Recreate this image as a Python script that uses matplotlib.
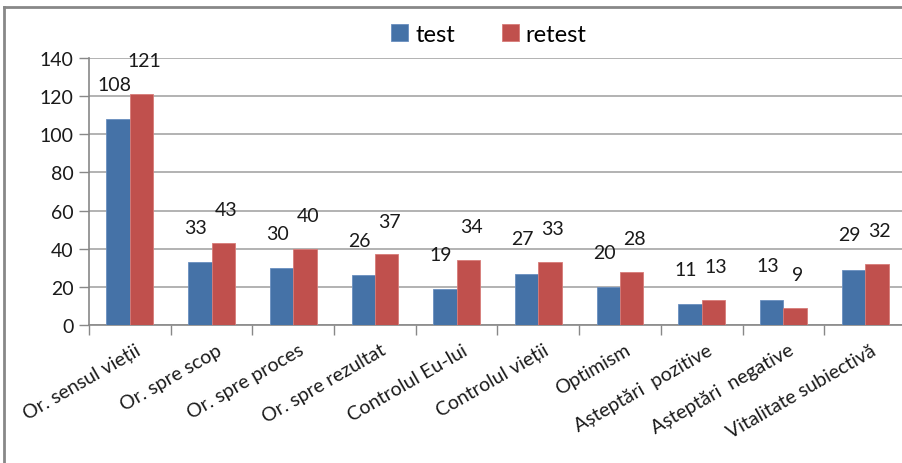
import numpy as np
import matplotlib
matplotlib.use("Agg")
import matplotlib.pyplot as plt
from matplotlib.lines import Line2D
from matplotlib.transforms import offset_copy

plt.rcParams['font.family'] = ['Lato', 'DejaVu Sans']

categories = ['Or. sensul vieții', 'Or. spre scop', 'Or. spre proces',
              'Or. spre rezultat', 'Controlul Eu-lui', 'Controlul vieții',
              'Optimism', 'Așteptări  pozitive', 'Așteptări  negative',
              'Vitalitate subiectivă']
test = [108, 33, 30, 26, 19, 27, 20, 11, 13, 29]
retest = [121, 43, 40, 37, 34, 33, 28, 13, 9, 32]
yticks = [0, 20, 40, 60, 80, 100, 120, 140]

blue = '#4572A7'
red = '#C0504D'

W, H = 903, 464
fig = plt.figure(figsize=(W / 100, H / 100), dpi=100)
ax = fig.add_axes([89 / W, 138 / H, (906 - 89) / W, 267 / H])

x = np.arange(len(categories))
bw = 0.286
ax.bar(x - bw / 2, test, bw, color=blue, edgecolor='#6a8fc0', linewidth=0.6,
       label='test', zorder=3)
ax.bar(x + bw / 2, retest, bw, color=red, edgecolor='#d77b78', linewidth=0.6,
       label='retest', zorder=3)

# value labels sit well above the bars
for i in range(len(categories)):
    ax.annotate(str(test[i]), (x[i] - bw / 2, test[i]), xytext=(-3, 25),
                textcoords='offset points', ha='center', va='center',
                fontsize=14, color='#1a1a1a')
    ax.annotate(str(retest[i]), (x[i] + bw / 2, retest[i]), xytext=(2, 24),
                textcoords='offset points', ha='center', va='center',
                fontsize=14, color='#1a1a1a')

ax.set_xlim(-0.5, len(categories) - 0.5)
ax.set_ylim(0, 140)
ax.set_yticks(yticks)
ax.set_yticklabels([str(v) for v in yticks], fontsize=14, color='#1a1a1a')
ax.yaxis.grid(True, color='#a6a6a6', linewidth=1.2, zorder=0)
ax.set_axisbelow(True)

ax.set_xticks(np.arange(len(categories) + 1) - 0.5)
ax.set_xticklabels([])
ax.tick_params(axis='x', length=7, width=1, color='#888888', direction='out')
ax.tick_params(axis='y', length=7, width=1, color='#888888', direction='out', pad=4)

for s in ['top', 'right']:
    ax.spines[s].set_visible(False)
ax.spines['left'].set_color('#888888')
ax.spines['bottom'].set_color('#888888')
ax.spines['left'].set_linewidth(1.2)
ax.spines['bottom'].set_linewidth(1.2)

# rotated category labels, right end near the category centre
trans = offset_copy(ax.get_xaxis_transform(), fig=fig, x=0, y=-16, units='dots')
for i, name in enumerate(categories):
    ax.text(i + 0.06, 0, name, transform=trans, rotation=30,
            rotation_mode='anchor', ha='right', va='top', fontsize=14,
            color='#1a1a1a')

ax.legend(loc='center', bbox_to_anchor=(489 / W, 1 - 35 / H),
          bbox_transform=fig.transFigure, ncol=2, frameon=False, fontsize=17,
          handlelength=0.7, handleheight=0.7, handletextpad=0.3,
          columnspacing=2.0)

# outer chart frame
fig.add_artist(Line2D([4 / W, 1], [1 - 8 / H, 1 - 8 / H], color='#888888', linewidth=2))
fig.add_artist(Line2D([4 / W, 4 / W], [0, 1 - 8 / H], color='#888888', linewidth=2))

fig.savefig('out.png', dpi=100)
